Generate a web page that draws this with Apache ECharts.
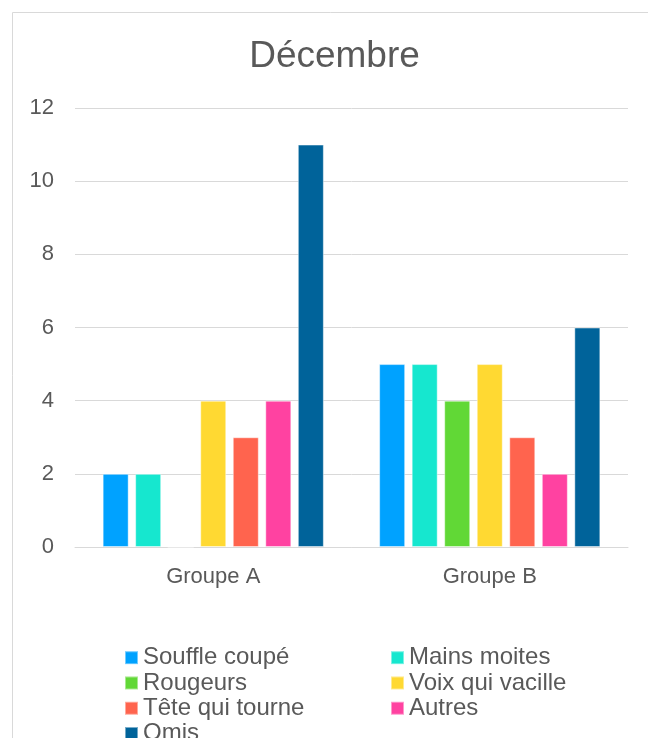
<!DOCTYPE html>
<html>
<head>
<meta charset="utf-8">
<script src="https://cdn.jsdelivr.net/npm/echarts@6/dist/echarts.min.js"></script>
<style>
  html, body { margin: 0; padding: 0; background: #fff; }
  #main { width: 648px; height: 738px; }
</style>
</head>
<body>
<div id="main"></div>
<script>
// données du graphique
var categories = ['Groupe A', 'Groupe B'];
var seriesNames = ['Souffle coupé', 'Mains moites', 'Rougeurs', 'Voix qui vacille', 'Tête qui tourne', 'Autres', 'Omis'];
var souffle = [2, 5];
var mains = [2, 5];
var rougeurs = [0, 4];
var voix = [4, 5];
var tete = [3, 3];
var autres = [4, 2];
var omis = [11, 6];
var colors = ['#00A2FF', '#16E7CF', '#61D836', '#FFD932', '#FF644E', '#FF42A1', '#00639A'];

var values = [souffle, mains, rougeurs, voix, tete, autres, omis];
var textColor = '#595959';
var font = 'Liberation Sans, Arial, sans-serif';

var series = [];
for (var i = 0; i < seriesNames.length; i++) {
    series.push({
        name: seriesNames[i],
        type: 'bar',
        data: values[i],
        barGap: '25%',
        barCategoryGap: '20%',
        itemStyle: { color: colors[i], borderColor: 'rgba(255,255,255,0.45)', borderWidth: 1 }
    });
}

var legendText = { color: textColor, fontSize: 24, fontFamily: font, lineHeight: 25.3 };

var myChart = echarts.init(document.getElementById('main'));
var option = {
    animation: false,
    color: colors,
    textStyle: { fontFamily: font },
    graphic: [{
        type: 'rect',
        shape: { x: 12.5, y: 12.5, width: 700, height: 800 },
        style: { fill: 'none', stroke: '#d9d9d9', lineWidth: 1 },
        z: -10
    }],
    title: {
        text: 'Décembre',
        left: 334.5,
        top: 38,
        padding: 0,
        textAlign: 'center',
        textStyle: { color: textColor, fontSize: 37, fontWeight: 'normal', fontFamily: font }
    },
    grid: { left: 75, right: 20, top: 108, bottom: 191, containLabel: false },
    xAxis: {
        type: 'category',
        data: categories,
        axisLine: { lineStyle: { color: '#d9d9d9', width: 1 } },
        axisTick: { show: false },
        axisLabel: { color: textColor, fontSize: 22, margin: 19, fontFamily: font }
    },
    yAxis: {
        type: 'value',
        min: 0,
        max: 12,
        interval: 2,
        axisLine: { show: false },
        axisTick: { show: false },
        splitLine: { lineStyle: { color: '#d9d9d9', width: 1 } },
        axisLabel: { color: textColor, fontSize: 22, margin: 21, fontFamily: font }
    },
    legend: [{
        orient: 'vertical',
        left: 124,
        top: 645,
        height: 200,
        padding: 0,
        icon: 'rect',
        itemWidth: 13,
        itemHeight: 13,
        itemGap: 0,
        textStyle: legendText,
        data: ['Souffle coupé', 'Rougeurs', 'Tête qui tourne', 'Omis']
    }, {
        orient: 'vertical',
        left: 390,
        top: 645,
        height: 200,
        padding: 0,
        icon: 'rect',
        itemWidth: 13,
        itemHeight: 13,
        itemGap: 0,
        textStyle: legendText,
        data: ['Mains moites', 'Voix qui vacille', 'Autres']
    }],
    series: series
};
myChart.setOption(option);
</script>
</body>
</html>
